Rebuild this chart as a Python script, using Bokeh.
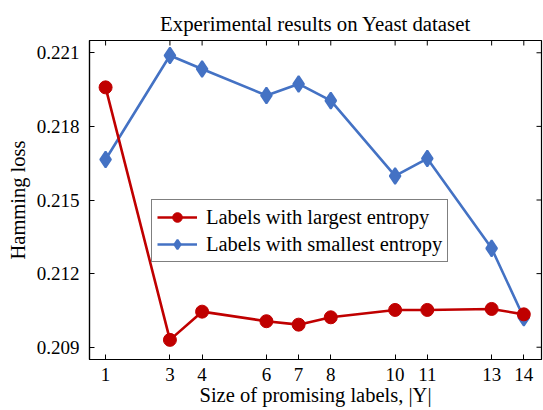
import math
from bokeh.plotting import figure
from bokeh.models import FixedTicker, Range1d, Legend, LegendItem
from bokeh.embed import file_html
from bokeh.resources import INLINE

# Size of the promising label set |Y|
sizes = [1, 3, 4, 6, 7, 8, 10, 11, 13, 14]
# Hamming loss per label-selection strategy
largest_entropy = [0.21959, 0.2093, 0.21045, 0.21006, 0.20992, 0.21022, 0.21052, 0.21052, 0.21056, 0.21034]
smallest_entropy = [0.21665, 0.22089, 0.22034, 0.21926, 0.21973, 0.21905, 0.21598, 0.21669, 0.21303, 0.21020]
y_ticks = [0.209, 0.212, 0.215, 0.218, 0.221]

X_MIN, X_MAX = 0.5, 14.55
Y_MIN, Y_MAX = 0.2085, 0.2215

FONT = "Liberation Serif"
RED = "#C00000"
BLUE = "#4472C4"

p = figure(width=543, height=410, output_backend="svg", toolbar_location=None,
           x_range=Range1d(X_MIN, X_MAX), y_range=Range1d(Y_MIN, Y_MAX),
           min_border_left=89, min_border_right=2, min_border_top=40, min_border_bottom=51)

p.title.text = "Experimental results on Yeast dataset"
p.title.text_font = FONT
p.title.text_font_size = "20.8px"
p.title.text_font_style = "normal"
p.title.align = "center"
p.title.text_color = "black"
p.title.standoff = 12

p.grid.visible = False
p.outline_line_color = "black"
p.outline_line_width = 1.2
p.background_fill_color = "white"
p.border_fill_color = "white"

def style_axis(ax):
    ax.major_tick_in = 5
    ax.major_tick_out = 0
    ax.minor_tick_line_color = None
    ax.axis_line_color = "black"
    ax.axis_line_width = 1.2
    ax.major_tick_line_color = "black"
    ax.major_label_text_font = FONT
    ax.major_label_text_font_size = "19px"
    ax.major_label_text_color = "black"
    ax.axis_label_text_font = FONT
    ax.axis_label_text_font_size = "20.5px"
    ax.axis_label_text_font_style = "normal"
    ax.axis_label_text_color = "black"

xa = p.xaxis[0]
ya = p.yaxis[0]
xa.ticker = FixedTicker(ticks=sizes)
ya.ticker = FixedTicker(ticks=y_ticks)
style_axis(xa)
style_axis(ya)
xa.axis_label = "Size of promising labels, |Y|"
ya.axis_label = "Hamming loss"
xa.major_label_standoff = 8
xa.axis_label_standoff = 0
ya.major_label_standoff = 10
ya.axis_label_standoff = 5

# inward tick marks along the top and right edges of the box
p.ray(x=sizes, y=[Y_MAX] * len(sizes), length=5, length_units="screen",
      angle=-math.pi / 2, line_color="black", line_width=1)
p.ray(x=[X_MAX] * len(y_ticks), y=y_ticks, length=5, length_units="screen",
      angle=math.pi, line_color="black", line_width=1)

l2 = p.line(sizes, smallest_entropy, line_color=BLUE, line_width=2.6)
m2 = p.scatter(sizes, smallest_entropy, marker="diamond", size=16, line_width=2,
               fill_color=BLUE, line_color=BLUE)
l1 = p.line(sizes, largest_entropy, line_color=RED, line_width=2.6)
m1 = p.scatter(sizes, largest_entropy, marker="circle", size=13, line_width=1,
               fill_color=RED, line_color=RED)

legend = Legend(items=[
    LegendItem(label="Labels with largest entropy", renderers=[l1, m1]),
    LegendItem(label="Labels with smallest entropy", renderers=[l2, m2]),
], location=(62, 97))
legend.label_text_font = FONT
legend.label_text_font_size = "20.5px"
legend.label_text_color = "black"
legend.border_line_color = "black"
legend.border_line_width = 1
legend.background_fill_alpha = 1
legend.glyph_width = 40
legend.glyph_height = 24
legend.label_height = 24
legend.spacing = 3
legend.padding = 5
legend.margin = 0
legend.label_standoff = 9
p.add_layout(legend, "center")

open("out.html", "w").write(file_html(p, INLINE))
